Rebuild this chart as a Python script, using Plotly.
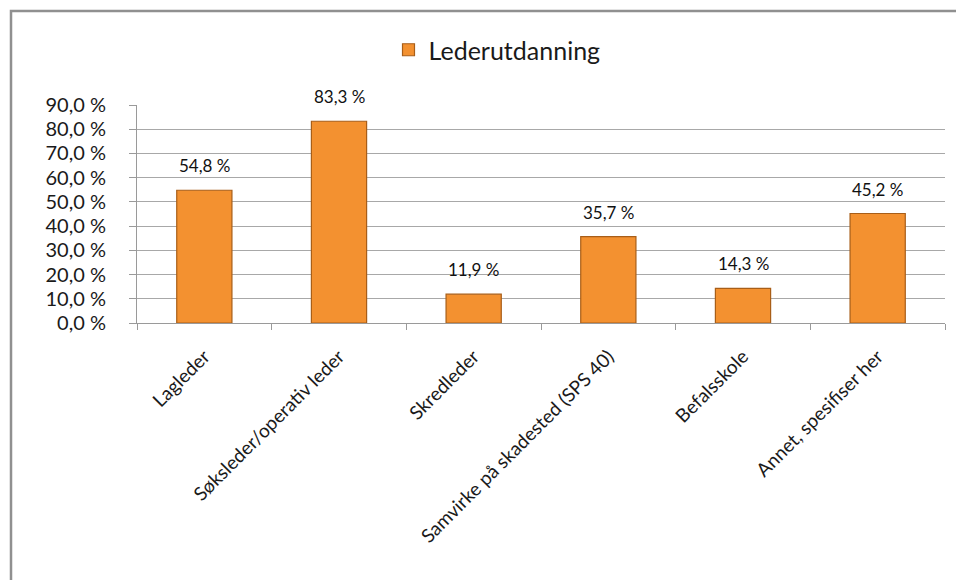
import plotly.graph_objects as go

categories = ["Lagleder", "Søksleder/operativ leder", "Skredleder",
              "Samvirke på skadested (SPS 40)", "Befalsskole", "Annet, spesifiser her"]
values = [54.8, 83.3, 11.9, 35.7, 14.3, 45.2]
series_name = "Lederutdanning"
y_ticks = [0, 10, 20, 30, 40, 50, 60, 70, 80, 90]
y_tick_labels = ["0,0 %", "10,0 %", "20,0 %", "30,0 %", "40,0 %", "50,0 %",
                 "60,0 %", "70,0 %", "80,0 %", "90,0 %"]

font_family = "Lato, 'Open Sans', sans-serif"

# page body has an 8px margin; work in figure coordinates = reference - 8
OFF = 8
W, H = 964, 580
pl, pr, pt, pb = 137 - OFF, 945 - OFF, 105 - OFF, 323 - OFF
pw, ph = pr - pl, pb - pt

def px_x(x):
    return (x - OFF - pl) / pw

def px_y(y):
    return (pb - (y - OFF)) / ph

fig = go.Figure()
fig.add_trace(go.Bar(
    x=categories,
    y=values,
    name=series_name,
    width=0.41,
    marker=dict(color="#F39130", line=dict(color="#A85E18", width=1.2)),
    showlegend=True,
))

for c, v in zip(categories, values):
    fig.add_annotation(
        x=c, y=v, xref="x", yref="y",
        text=f"{v:.1f} %".replace(".", ","),
        showarrow=False, yanchor="bottom", yshift=12,
        font=dict(size=17, color="#111111", family=font_family),
    )

fig.update_layout(
    width=W, height=H,
    margin=dict(l=pl, r=W - pr, t=pt, b=H - pb, autoexpand=False),
    paper_bgcolor="white",
    plot_bgcolor="white",
    font=dict(family=font_family, color="#1a1a1a"),
    legend=dict(
        orientation="h",
        x=px_x(497), xanchor="center",
        y=px_y(50), yanchor="middle",
        font=dict(size=25, family=font_family, color="#1a1a1a"),
        bgcolor="rgba(0,0,0,0)",
        itemwidth=30,
    ),
    xaxis=dict(
        tickangle=-45,
        tickfont=dict(size=19, family=font_family, color="#1a1a1a"),
        showline=True, linecolor="#9a9a9a", linewidth=1,
        ticks="outside", tickson="boundaries", ticklen=6, tickcolor="#9a9a9a",
        ticklabelstandoff=14,
        showgrid=False,
    ),
    yaxis=dict(
        range=[0, 90],
        tickvals=y_ticks,
        ticktext=y_tick_labels,
        tickfont=dict(size=20, family=font_family, color="#1a1a1a"),
        showline=True, linecolor="#9a9a9a", linewidth=1,
        ticks="outside", ticklen=7, tickcolor="#9a9a9a",
        ticklabelstandoff=19,
        showgrid=True, gridcolor="#a8a8a8", gridwidth=1,
        zeroline=False,
    ),
    shapes=[dict(
        type="rect", xref="paper", yref="paper",
        x0=px_x(11), x1=px_x(990), y0=px_y(620), y1=px_y(11),
        line=dict(color="#909090", width=2.5),
        fillcolor="rgba(0,0,0,0)",
        layer="below",
    )],
)

fig.write_html("out.html")
